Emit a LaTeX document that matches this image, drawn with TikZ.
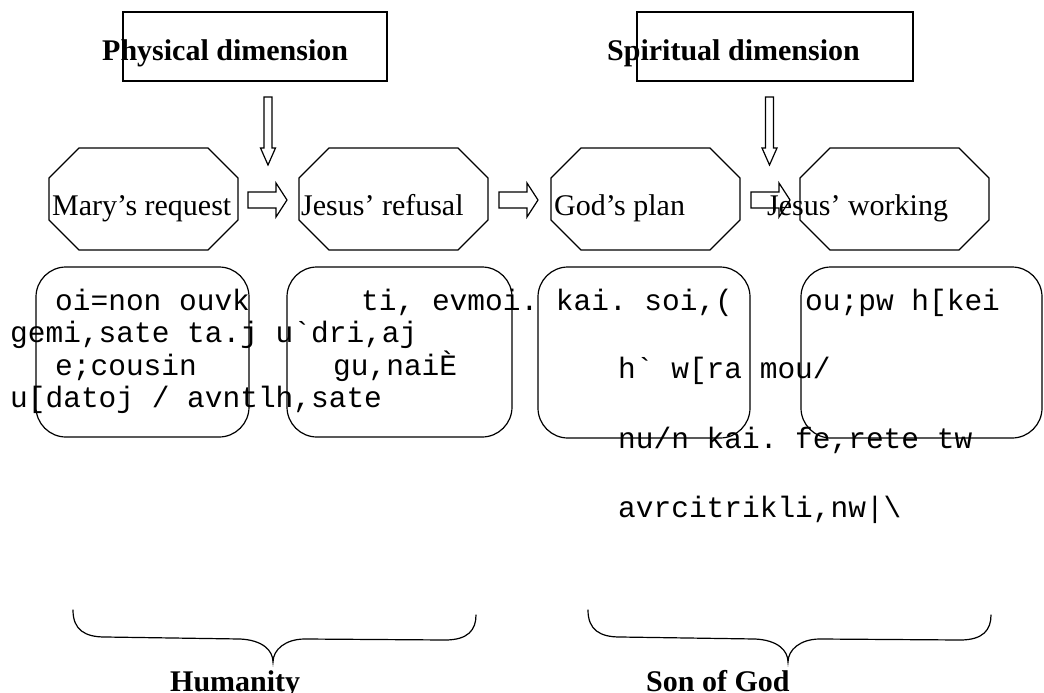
\documentclass[tikz,border=0pt]{standalone}
\usepackage{fontspec}
\setmainfont{Liberation Serif}
\setmonofont{Liberation Mono}
\frenchspacing
\tikzset{
  lbl/.style={font=\fontsize{30}{33}\selectfont, inner sep=0pt, anchor=base west},
  ttl/.style={lbl, font=\fontsize{30}{33}\selectfont\bfseries},
  grk/.style={lbl, font=\fontsize{29.5}{33}\selectfont\ttfamily},
  shp/.style={draw=black, line width=1.2pt, line join=miter},
  octo/.pic={\draw[shp] (30,0) -- (159,0) -- (189,30) -- (189,72) -- (159,102) -- (30,102) -- (0,72) -- (0,30) -- cycle;},
  harrow/.pic={\draw[shp] (0,-8) -- (28,-8) -- (28,-17) -- (39,0) -- (28,17) -- (28,8) -- (0,8) -- cycle;},
  varrow/.pic={\draw[shp] (-4,0) -- (4,0) -- (4,51) -- (7.5,51) -- (0,68) -- (-7.5,51) -- (-4,51) -- cycle;},
  brace/.pic={\draw[shp, line cap=round]
     (0,0) .. controls (0,20) and (12,27) .. (32,27) -- (167,29)
     .. controls (189,30) and (200,40) .. (200,52)
     .. controls (200,40) and (212,29) .. (232,29) -- (372,30)
     .. controls (395,30) and (403,20) .. (403,5);},
}
\begin{document}
\begin{tikzpicture}[x=1pt, y=-1pt]
  \useasboundingbox (0,0) rectangle (1044,693);
  % title boxes
  \draw[shp] (123,12) rectangle (387,81);
  \draw[shp] (637,12) rectangle (913,81);
  \node[ttl] (phys) at (102,60) {Physical dimension};
  \node[ttl] (spir) at (607,60) {Spiritual dimension};
  % down arrows
  \pic at (268,97) {varrow};
  \pic at (769.5,97) {varrow};
  % octagons
  \pic at (49,148) {octo};
  \pic at (299,148) {octo};
  \pic at (551,148) {octo};
  \pic at (800,148) {octo};
  % horizontal block arrows
  \pic at (248,200) {harrow};
  \pic at (499,200) {harrow};
  \pic at (751,200) {harrow};
  % octagon labels
  \node[lbl] (mary) at (52,215) {Mary’s request};
  \node[lbl] (refu) at (301,215) {Jesus’ refusal};
  \node[lbl] (plan) at (554,215) {God’s plan};
  \node[lbl] (work) at (767,215) {Jesus’ working};
  % rounded boxes
  \draw[shp, rounded corners=30pt] (36,267) rectangle (249,437);
  \draw[shp, rounded corners=30pt] (287,267) rectangle (512,437);
  \draw[shp, rounded corners=30pt] (538,267) rectangle (750,438);
  \draw[shp, rounded corners=30pt] (801,267) rectangle (1042,438);
  % transliterated Greek
  \node[grk] (g1) at (55,310) {oi=non ouvk};
  \node[grk] (g2) at (10,342) {gemi,sate ta.j u`dri,aj};
  \node[grk] (g3) at (55,375) {e;cousin};
  \node[grk] (g4) at (10,407) {u[datoj / avntlh,sate};
  \node[grk] (g5) at (361,310) {ti, evmoi. kai. soi,(};
  \node[grk] (g6) at (333,375) {gu,naiÈ};
  \node[grk] (g7) at (805,310) {ou;pw h[kei};
  \node[grk] (g8) at (618,378) {h` w[ra mou/};
  \node[grk] (g9) at (618,448) {nu/n kai. fe,rete tw};
  \node[grk] (g10) at (618,517) {avrcitrikli,nw|\textbackslash};
  % braces
  \pic at (73,610) {brace};
  \pic at (588,610) {brace};
  \node[ttl] (hum) at (170,691) {Humanity};
  \node[ttl] (son) at (646,691) {Son of God};
\end{tikzpicture}
\end{document}
